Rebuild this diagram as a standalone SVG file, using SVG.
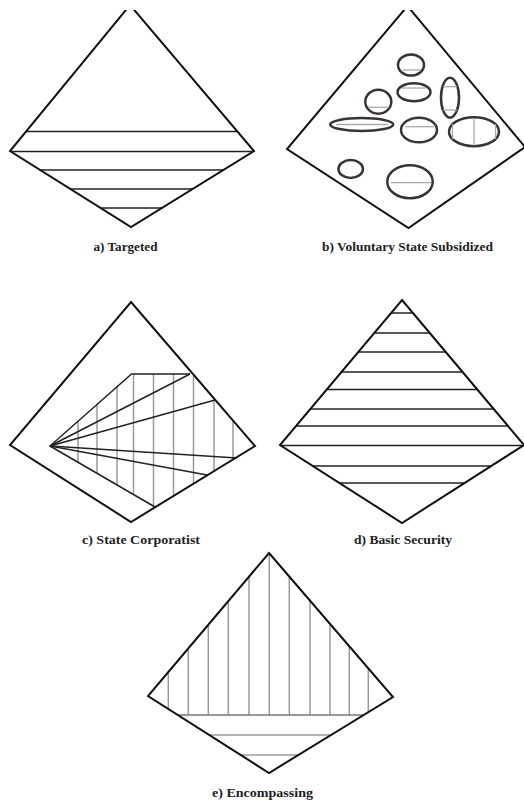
<svg xmlns="http://www.w3.org/2000/svg" width="524" height="803" viewBox="0 0 524 803">
<style>
.out{fill:none;stroke:#111;stroke-width:2;stroke-linejoin:miter}
.hl{stroke:#222;stroke-width:1.6;fill:none}
.gl{stroke:#9a9a9a;stroke-width:1.5;fill:none}
.el{fill:none;stroke:#3a3333;stroke-width:2.5}
.eg{stroke:#aaa;stroke-width:1.3;fill:none}
.fan{stroke:#222;stroke-width:1.5;fill:none}
.lbl{font-family:"Liberation Serif","Times New Roman",serif;font-size:12px;font-weight:bold;fill:#222;text-anchor:middle}
</style>
<defs>
<clipPath id="topclip"><rect x="0" y="10" width="524" height="793"/></clipPath>
<clipPath id="ca"><polygon points="130,5 254,151 131,227 10,151"/></clipPath>
<clipPath id="cd"><polygon points="402,300 524,445 402,523 280,445"/></clipPath>
<clipPath id="ce"><polygon points="269,553 393,697 269,773 148,696"/></clipPath>
</defs>
<rect width="524" height="803" fill="#fff"/>

<g id="node-a">
<g clip-path="url(#ca)">
<line class="hl" x1="0" y1="131.5" x2="264" y2="131.5"/>
<line class="hl" x1="0" y1="151.5" x2="264" y2="151.5"/>
<line class="hl" x1="0" y1="170" x2="264" y2="170"/>
<line class="hl" x1="0" y1="189" x2="264" y2="189"/>
<line class="hl" x1="0" y1="208" x2="264" y2="208"/>
</g>
<polygon class="out" clip-path="url(#topclip)" points="130,5 254,151 131,227 10,151"/>
<text class="lbl" x="125.5" y="251" textLength="64" lengthAdjust="spacingAndGlyphs">a) Targeted</text>
</g>

<g id="node-b">
<polygon class="out" clip-path="url(#topclip)" points="407.5,6 525,147 408.5,228 287,149"/>
<ellipse class="el" cx="411" cy="65" rx="13" ry="10.5"/>
<line class="eg" x1="403" y1="70" x2="421" y2="70"/>
<ellipse class="el" cx="414" cy="92.3" rx="16.5" ry="9"/>
<line class="eg" x1="402" y1="88" x2="426" y2="88"/>
<ellipse class="el" cx="378.3" cy="101.7" rx="13" ry="12"/>
<line class="eg" x1="368" y1="107.3" x2="389" y2="107.3"/>
<ellipse class="el" cx="450" cy="97.7" rx="9" ry="20"/>
<line class="eg" x1="443" y1="86.7" x2="457" y2="86.7"/>
<line class="eg" x1="443" y1="110" x2="457" y2="110"/>
<ellipse class="el" cx="361.7" cy="124.5" rx="31.5" ry="6.5"/>
<line class="eg" x1="336" y1="124.5" x2="388" y2="124.5"/>
<ellipse class="el" cx="419" cy="130" rx="18" ry="12.3"/>
<line class="eg" x1="405" y1="126.7" x2="434" y2="126.7"/>
<ellipse class="el" cx="474" cy="131.7" rx="25" ry="14.5"/>
<line class="eg" x1="474" y1="118" x2="474" y2="145.5"/>
<line class="eg" x1="452.5" y1="124" x2="452.5" y2="139"/>
<line class="eg" x1="495.5" y1="124" x2="495.5" y2="139"/>
<ellipse class="el" cx="350.7" cy="169" rx="12.3" ry="9"/>
<ellipse class="el" cx="410" cy="181.7" rx="22.7" ry="16.5"/>
<line class="eg" x1="391" y1="182.7" x2="431" y2="182.7"/>
<text class="lbl" x="407.5" y="251" textLength="171" lengthAdjust="spacingAndGlyphs">b) Voluntary State Subsidized</text>
</g>

<g id="node-c">
<g>
<line class="gl" x1="78" y1="421.1" x2="78" y2="462.3"/>
<line class="gl" x1="97" y1="404.2" x2="97" y2="473.3"/>
<line class="gl" x1="117" y1="386.4" x2="117" y2="484.9"/>
<line class="gl" x1="133.5" y1="374" x2="133.5" y2="494.2"/>
<line class="gl" x1="153.5" y1="374" x2="153.5" y2="505.8"/>
<line class="gl" x1="173.5" y1="374" x2="173.5" y2="496.3"/>
<line class="gl" x1="193.5" y1="376" x2="193.5" y2="484"/>
<line class="gl" x1="214" y1="398.4" x2="214" y2="471.1"/>
<line class="gl" x1="233" y1="420.5" x2="233" y2="459.5"/>
</g>
<polyline class="fan" points="155,507 50,446 131.5,374 190,374"/>
<line class="fan" x1="50" y1="446" x2="190" y2="374"/>
<line class="fan" x1="50" y1="446" x2="215" y2="400"/>
<line class="fan" x1="50" y1="446" x2="237" y2="458"/>
<line class="fan" x1="50" y1="446" x2="207" y2="475"/>
<polygon class="out" points="131,302 255,446 131,522 10,445"/>
<text class="lbl" x="141" y="544" textLength="118" lengthAdjust="spacingAndGlyphs">c) State Corporatist</text>
</g>

<g id="node-d">
<g clip-path="url(#cd)">
<line class="hl" x1="270" y1="313" x2="530" y2="313"/>
<line class="hl" x1="270" y1="333" x2="530" y2="333"/>
<line class="hl" x1="270" y1="352" x2="530" y2="352"/>
<line class="hl" x1="270" y1="372" x2="530" y2="372"/>
<line class="hl" x1="270" y1="389.5" x2="530" y2="389.5"/>
<line class="hl" x1="270" y1="409" x2="530" y2="409"/>
<line class="hl" x1="270" y1="426" x2="530" y2="426"/>
<line class="hl" x1="270" y1="445.5" x2="530" y2="445.5"/>
<line class="hl" x1="270" y1="466" x2="530" y2="466"/>
<line class="hl" x1="270" y1="483" x2="530" y2="483"/>
</g>
<polygon class="out" points="402,300 524,445 402,523 280,445"/>
<text class="lbl" x="403" y="544" textLength="98" lengthAdjust="spacingAndGlyphs">d) Basic Security</text>
</g>

<g id="node-e">
<g clip-path="url(#ce)">
<line class="gl" x1="168.3" y1="540" x2="168.3" y2="715"/>
<line class="gl" x1="188.3" y1="540" x2="188.3" y2="715"/>
<line class="gl" x1="208.3" y1="540" x2="208.3" y2="715"/>
<line class="gl" x1="228.3" y1="540" x2="228.3" y2="715"/>
<line class="gl" x1="249" y1="540" x2="249" y2="715"/>
<line class="gl" x1="269.3" y1="540" x2="269.3" y2="715"/>
<line class="gl" x1="289.3" y1="540" x2="289.3" y2="715"/>
<line class="gl" x1="310" y1="540" x2="310" y2="715"/>
<line class="gl" x1="330" y1="540" x2="330" y2="715"/>
<line class="gl" x1="349.3" y1="540" x2="349.3" y2="715"/>
<line class="gl" x1="368.3" y1="540" x2="368.3" y2="715"/>
<line class="gl" x1="140" y1="715" x2="400" y2="715" style="stroke:#777"/>
<line class="gl" x1="140" y1="735" x2="400" y2="735"/>
<line class="gl" x1="140" y1="755" x2="400" y2="755"/>
</g>
<polygon class="out" points="269,553 393,697 269,773 148,696"/>
<text class="lbl" x="262.5" y="797" textLength="101" lengthAdjust="spacingAndGlyphs">e) Encompassing</text>
</g>
</svg>
